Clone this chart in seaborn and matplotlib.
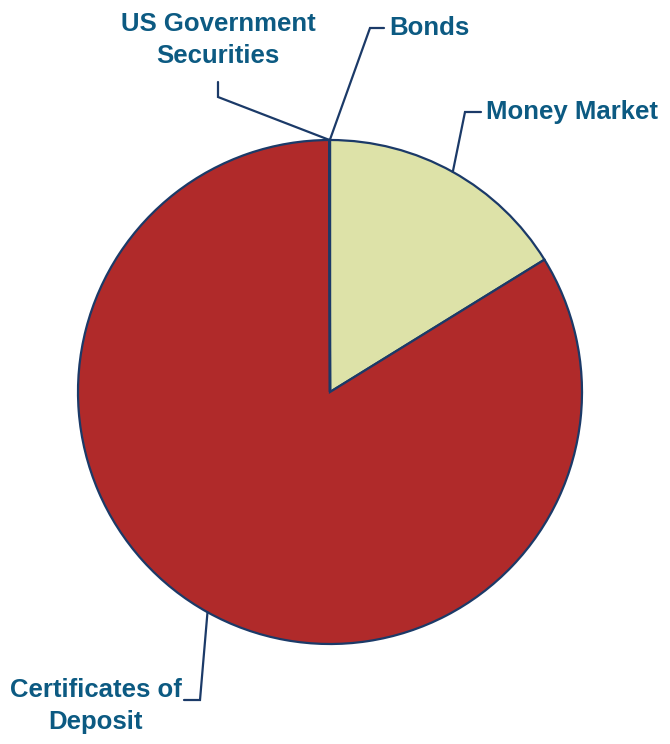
import numpy as np
import seaborn as sns
import matplotlib.pyplot as plt

sns.set_theme(style="white")
plt.rcParams['font.family'] = ['Liberation Sans', 'DejaVu Sans']

# holdings (percent of portfolio)
labels = ["Money Market", "Certificates of\nDeposit", "US Government\nSecurities", "Bonds"]
shares = [16.2, 83.76, 0.02, 0.02]
colors = ["#DDE2A8", "#B02A2A", "#B02A2A", "#B02A2A"]

W, H = 670, 744
text_col = "#0C5A82"
line_col = "#1B3A68"

fig = plt.figure(figsize=(W / 100, H / 100), dpi=100)
ax = fig.add_axes([0, 0, 1, 1])

cx, cy, r = 330, H - 392, 252
wedges, _ = ax.pie(shares, colors=colors, startangle=90, counterclock=False,
                   center=(cx, cy), radius=r, frame=True,
                   wedgeprops=dict(edgecolor=line_col, linewidth=1.6))
ax.set_xlim(0, W)
ax.set_ylim(0, H)
ax.set_aspect("equal")
ax.axis("off")


def anchor(w):
    a = np.deg2rad((w.theta1 + w.theta2) / 2)
    return cx + r * np.cos(a), cy + r * np.sin(a)


# leader-line layout in pixel coords from top: elbow, end, label pos, alignment, size
layout = {
    "Money Market": ((465, 112), (481, 112), (486, 112), "left", 18.5),
    "Certificates of\nDeposit": ((200, 700), (184, 700), (95, 706), "center", 18.5),
    "US Government\nSecurities": ((218, 97), (218, 82), (218, 40), "center", 18.5),
    "Bonds": ((370, 28), (384, 28), (389, 28), "left", 18.5),
}

for w, lab in zip(wedges, labels):
    (ex, ey), (tx, ty), (lx, ly), ha, fs = layout[lab]
    ax0, ay0 = anchor(w)
    ax.plot([ax0, ex, tx], [ay0, H - ey, H - ty], color=line_col, lw=1.6,
            solid_joinstyle="miter", zorder=3)
    if lab.startswith("Certificates"):
        ax.text(182, H - 690, "Certificates of", ha="right", va="center",
                fontsize=fs, fontweight="bold", color=text_col)
        ax.text(lx, H - 722, "Deposit", ha="center", va="center",
                fontsize=fs, fontweight="bold", color=text_col)
    else:
        ax.text(lx, H - ly, lab, ha=ha, va="center", fontsize=fs,
                fontweight="bold", color=text_col, linespacing=1.45)

fig.savefig("out.png", dpi=100)
